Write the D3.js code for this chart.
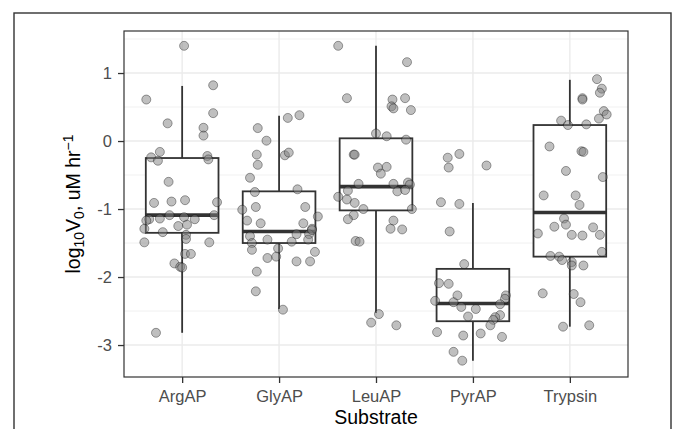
<!DOCTYPE html>
<html><head><meta charset="utf-8">
<script src="https://cdn.jsdelivr.net/npm/d3@7"></script>
<style>body{margin:0;background:#fff}svg{display:block}</style>
</head><body>
<svg id="c" width="673" height="429"></svg>
<script>
const categories = ["ArgAP","GlyAP","LeuAP","PyrAP","Trypsin"];
const yTicks = [-3,-2,-1,0,1];
const yMinor = [-2.5,-1.5,-0.5,0.5,1.5];
// box stats
const q1 = [-1.35,-1.50,-1.02,-2.65,-1.70];
const med = [-1.09,-1.33,-0.67,-2.39,-1.05];
const q3 = [-0.25,-0.74,0.04,-1.88,0.235];
const whiskLo = [-2.82,-2.47,-2.53,-3.23,-2.73];
const whiskHi = [0.81,0.37,1.40,-0.91,0.90];
// points: values and jitter (fraction of category step)
const argVals = [1.40,0.82,0.61,0.41,0.26,0.195,0.08,-0.16,-0.24,-0.29,-0.22,-0.27,-0.60,-0.91,-0.89,-0.87,-0.90,-1.15,-1.14,-1.09,-1.12,-1.15,-1.09,-1.17,-1.29,-1.25,-1.23,-1.34,-1.38,-1.44,-1.49,-1.49,-1.66,-1.66,-1.80,-1.85,-1.86,-2.82];
const argJit = [0.02,0.32,-0.37,0.32,-0.15,0.22,0.22,-0.23,-0.32,-0.25,0.26,0.27,-0.14,-0.29,-0.11,0.03,0.36,-0.34,-0.23,-0.13,0.02,0.13,0.33,-0.37,-0.39,-0.04,0.05,-0.20,0.04,0.04,-0.39,0.28,0.03,0.09,-0.08,-0.02,0.00,-0.27];
const glyVals = [0.34,0.38,0.19,0.005,-0.20,-0.35,-0.21,-0.17,-0.54,-0.75,-0.71,-0.97,-0.97,-1.01,-1.11,-1.17,-1.21,-1.21,-1.29,-1.37,-1.40,-1.37,-1.45,-1.45,-1.48,-1.50,-1.60,-1.58,-1.70,-1.72,-1.63,-1.77,-1.77,-1.92,-2.21,-2.48,-1.31];
const glyJit = [0.09,0.21,-0.22,-0.13,-0.23,-0.22,0.06,0.10,-0.30,-0.25,0.19,-0.24,0.27,-0.38,0.40,-0.33,-0.19,0.25,0.34,0.18,-0.30,0.31,0.30,-0.12,0.13,-0.28,-0.28,-0.01,-0.03,-0.12,0.37,0.18,0.32,-0.23,-0.24,0.04,0.34];
const leuVals = [1.40,1.16,0.63,0.61,0.63,0.51,0.48,0.455,0.11,0.07,0.02,-0.20,-0.20,-0.39,-0.38,-0.48,-0.63,-0.63,-0.61,-0.64,-0.73,-0.74,-0.72,-0.82,-0.86,-0.91,-1.00,-1.00,-1.09,-1.15,-1.17,-1.29,-1.30,-1.47,-1.48,-2.545,-2.67,-2.71];
const leuJit = [-0.39,0.32,-0.30,0.17,0.30,0.16,0.18,0.36,0.00,0.11,0.31,-0.23,-0.22,0.02,0.11,0.05,-0.18,0.18,0.33,0.35,-0.29,0.22,0.30,-0.39,-0.30,-0.22,-0.13,0.37,-0.23,-0.29,0.18,0.15,0.27,-0.21,-0.17,0.03,-0.05,0.21];
const pyrVals = [-0.245,-0.19,-0.39,-0.36,-0.90,-0.925,-1.33,-1.81,-2.09,-2.10,-2.35,-2.27,-2.37,-2.44,-2.47,-2.58,-2.27,-2.32,-2.40,-2.56,-2.59,-2.63,-2.71,-2.81,-2.86,-2.83,-2.88,-3.10,-3.23];
const pyrJit = [-0.26,-0.14,-0.25,0.14,-0.33,-0.14,-0.24,-0.09,-0.35,-0.25,-0.39,-0.16,-0.20,-0.12,0.03,-0.05,0.34,0.33,0.28,0.28,0.23,0.21,0.18,-0.37,-0.10,0.08,0.30,-0.20,-0.11];
const tryVals = [0.91,0.77,0.71,0.63,0.61,0.44,0.39,0.33,0.30,0.235,0.245,-0.08,-0.15,-0.16,-0.44,-0.53,-0.80,-0.80,-0.94,-1.14,-1.26,-1.23,-1.27,-1.36,-1.38,-1.39,-1.38,-1.63,-1.69,-1.70,-1.75,-1.78,-1.83,-1.83,-2.24,-2.25,-2.37,-2.73,-2.71];
const tryJit = [0.28,0.33,0.31,0.13,0.13,0.35,0.38,0.30,-0.09,-0.02,0.17,-0.21,0.12,0.14,-0.04,0.34,-0.27,0.06,0.10,-0.06,-0.16,-0.04,0.24,-0.33,0.02,0.13,0.31,0.33,-0.20,-0.11,-0.08,0.02,0.02,0.14,-0.28,0.04,0.11,-0.07,0.20];
const seriesVals = [argVals,glyVals,leuVals,pyrVals,tryVals];
const seriesJit = [argJit,glyJit,leuJit,pyrJit,tryJit];

const svg = d3.select("#c");
const L=124, R=628, T=31, B=377;
const x = d3.scalePoint().domain(categories).range([L,R]).padding(0.6);
const step = x.step();
const y = d3.scaleLinear().domain([-3.47,1.618]).range([B,T]);
const font = "'Liberation Sans', Arial, Helvetica, sans-serif";

// outer border
svg.append("rect").attr("x",14).attr("y",13).attr("width",657).attr("height",440)
  .attr("fill","none").attr("stroke","#333").attr("stroke-width",1.4);

const g = svg.append("g");
g.append("rect").attr("x",L).attr("y",T).attr("width",R-L).attr("height",B-T).attr("fill","#fff");
// grid
g.selectAll(".ymin").data(yMinor).join("line")
  .attr("x1",L).attr("x2",R).attr("y1",d=>y(d)).attr("y2",d=>y(d))
  .attr("stroke","#ebebeb").attr("stroke-width",0.7);
g.selectAll(".ymaj").data(yTicks).join("line")
  .attr("x1",L).attr("x2",R).attr("y1",d=>y(d)).attr("y2",d=>y(d))
  .attr("stroke","#ebebeb").attr("stroke-width",1.4);
g.selectAll(".xmaj").data(categories).join("line")
  .attr("x1",d=>x(d)).attr("x2",d=>x(d)).attr("y1",T).attr("y2",B)
  .attr("stroke","#ebebeb").attr("stroke-width",1.4);

// boxes
const bw = step*0.75;
categories.forEach((c,i)=>{
  const cx = x(c);
  g.append("line").attr("x1",cx).attr("x2",cx).attr("y1",y(q3[i])).attr("y2",y(whiskHi[i]))
    .attr("stroke","#333").attr("stroke-width",1.8);
  g.append("line").attr("x1",cx).attr("x2",cx).attr("y1",y(q1[i])).attr("y2",y(whiskLo[i]))
    .attr("stroke","#333").attr("stroke-width",1.8);
  g.append("rect").attr("x",cx-bw/2).attr("y",y(q3[i])).attr("width",bw).attr("height",y(q1[i])-y(q3[i]))
    .attr("fill","#fff").attr("stroke","#333").attr("stroke-width",1.8);
  g.append("line").attr("x1",cx-bw/2).attr("x2",cx+bw/2).attr("y1",y(med[i])).attr("y2",y(med[i]))
    .attr("stroke","#333").attr("stroke-width",3.6);
});

// points
categories.forEach((c,i)=>{
  const pts = seriesVals[i].map((v,j)=>({v, j: seriesJit[i][j]}));
  g.selectAll(null).data(pts).join("circle")
    .attr("cx",d=>x(c)+d.j*step).attr("cy",d=>y(d.v)).attr("r",4.5)
    .attr("fill","#7f7f7f").attr("fill-opacity",0.5)
    .attr("stroke","#000").attr("stroke-opacity",0.4).attr("stroke-width",0.9);
});

// panel border
svg.append("rect").attr("x",L).attr("y",T).attr("width",R-L).attr("height",B-T)
  .attr("fill","none").attr("stroke","#333").attr("stroke-width",1.2);

// axes
const ya = svg.append("g").attr("transform",`translate(${L},0)`)
  .call(d3.axisLeft(y).tickValues(yTicks).tickSize(6).tickPadding(6).tickFormat(d3.format("d")));
ya.select(".domain").remove();
ya.selectAll(".tick line").attr("stroke","#333").attr("stroke-width",1.3);
ya.selectAll(".tick text").attr("fill","#4d4d4d").style("font-family",font).style("font-size","16.5px");
ya.selectAll(".tick text").text(d=>String(d));

const xa = svg.append("g").attr("transform",`translate(0,${B})`)
  .call(d3.axisBottom(x).tickSize(6).tickPadding(7));
xa.select(".domain").remove();
xa.selectAll(".tick line").attr("stroke","#333").attr("stroke-width",1.3);
xa.selectAll(".tick text").attr("fill","#4d4d4d").style("font-family",font).style("font-size","16.5px");

// titles
svg.append("text").attr("x",(L+R)/2).attr("y",424).attr("text-anchor","middle")
  .style("font-family",font).style("font-size","19.5px").attr("fill","#000").text("Substrate");

const yt = svg.append("text").attr("transform",`translate(80,${(T+B)/2}) rotate(-90)`)
  .attr("text-anchor","middle").style("font-family",font).style("font-size","19.5px").attr("fill","#000");
yt.append("tspan").text("log");
yt.append("tspan").attr("dy",4).style("font-size","14px").text("10");
yt.append("tspan").attr("dy",-4).text("V");
yt.append("tspan").attr("dy",4).style("font-size","14px").text("0");
yt.append("tspan").attr("dy",-4).text(", uM hr");
yt.append("tspan").attr("dy",-7).style("font-size","14px").text("\u22121");
</script>
</body></html>
